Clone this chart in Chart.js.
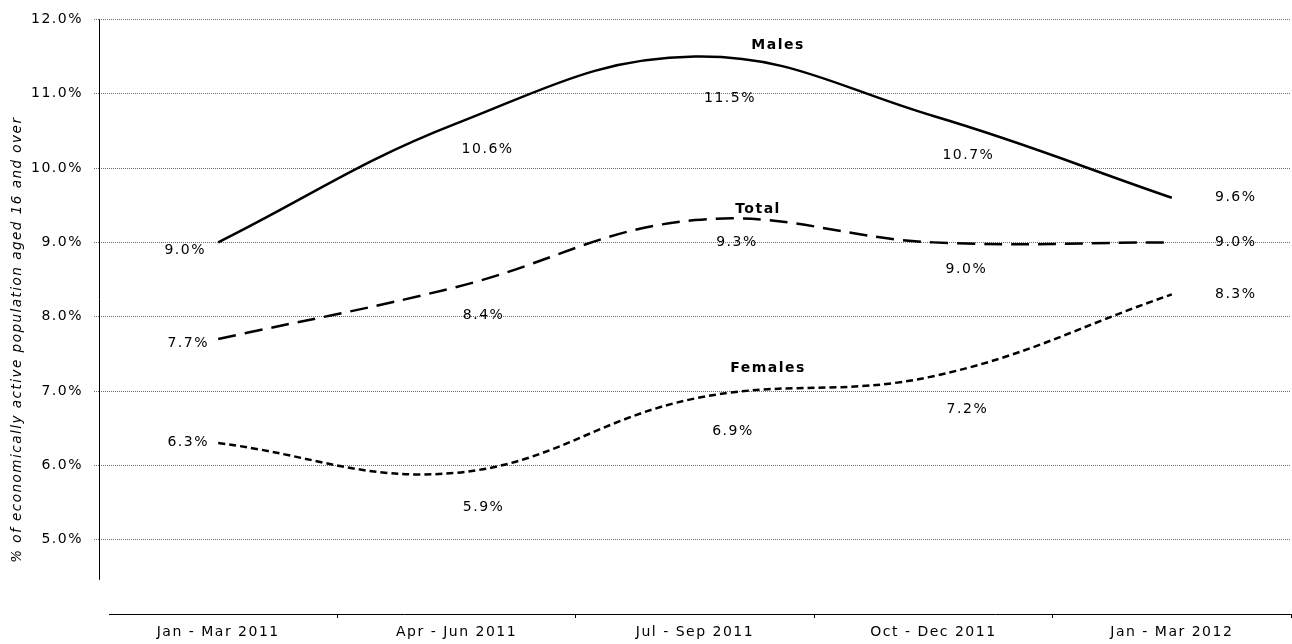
<!DOCTYPE html>
<html>
<head>
<meta charset="utf-8">
<script src="https://cdn.jsdelivr.net/npm/chart.js@4.4.1/dist/chart.umd.min.js"></script>
<style>
  html, body { margin: 0; padding: 0; background: #fff; }
  #wrap { width: 1292px; height: 644px; position: relative; }
</style>
</head>
<body>
<div id="wrap"><canvas id="chart"></canvas></div>
<script>
const quarters = ['Jan - Mar 2011', 'Apr - Jun 2011', 'Jul - Sep 2011', 'Oct - Dec 2011', 'Jan - Mar 2012'];
const males   = [9.0, 10.6, 11.5, 10.7, 9.6];
const total   = [7.7, 8.4, 9.3, 9.0, 9.0];
const females = [6.3, 5.9, 6.9, 7.2, 8.3];
const yTicks  = [5, 6, 7, 8, 9, 10, 11, 12];
const yTitle  = '% of economically active population aged 16 and over';

// where the value labels sit relative to their point (px), as in the original
const labelShift = {
  Males:   [[-33, 8], [31, 26], [35, 42], [35, 39], [64, 0]],
  Total:   [[-30, 4], [27, 28], [42, 22], [33, 27], [64, 0]],
  Females: [[-30, -1], [27, 35], [38, 33], [34, 33], [64, 0]]
};
// series name, placed near the Jul - Sep point
const nameShift = { Males: [83, -11], Total: [63, -11], Females: [73, -30] };

const FONT = 'DejaVu Sans';
const SPACING = '1.5px';

// canvas resets its state on resize, so set letter spacing again before layout / draw
const spacing = {
  id: 'spacing',
  beforeUpdate(c) { c.ctx.letterSpacing = SPACING; },
  beforeLayout(c) { c.ctx.letterSpacing = SPACING; },
  beforeDraw(c) { c.ctx.letterSpacing = SPACING; }
};

// axis lines: y stops a bit below 5.0%, x starts a little right of the y axis
const axisLines = {
  id: 'axisLines',
  beforeDatasetsDraw(c) {
    const y = c.scales.y, ctx = c.ctx, a = c.chartArea;
    const x = Math.round(a.left) + 0.5;
    const yb = Math.round(a.bottom) + 0.5;
    ctx.save();
    ctx.strokeStyle = '#000';
    ctx.lineWidth = 1;
    ctx.beginPath();
    ctx.moveTo(x, y.getPixelForValue(12));
    ctx.lineTo(x, y.getPixelForValue(4.46));
    ctx.moveTo(a.left + 10, yb);
    ctx.lineTo(a.right, yb);
    ctx.stroke();

    // rotated axis title
    ctx.letterSpacing = SPACING;
    ctx.fillStyle = '#000';
    ctx.font = 'italic 13.5px "' + FONT + '"';
    ctx.textAlign = 'center';
    ctx.textBaseline = 'middle';
    ctx.translate(17, (a.top + a.bottom) / 2 + 23);
    ctx.rotate(-Math.PI / 2);
    ctx.fillText(yTitle, 0, 0);
    ctx.restore();
  }
};

const valueLabels = {
  id: 'valueLabels',
  afterDatasetsDraw(c) {
    const ctx = c.ctx;
    ctx.save();
    ctx.letterSpacing = SPACING;
    ctx.fillStyle = '#000';
    ctx.textAlign = 'center';
    ctx.textBaseline = 'middle';
    c.data.datasets.forEach((ds, i) => {
      const meta = c.getDatasetMeta(i);
      const sh = labelShift[ds.label];
      ctx.font = '14px "' + FONT + '"';
      meta.data.forEach((pt, j) => {
        ctx.fillText(ds.data[j].toFixed(1) + '%', pt.x + sh[j][0], pt.y + sh[j][1]);
      });
      const p = meta.data[2], n = nameShift[ds.label];
      ctx.font = 'bold 14px "' + FONT + '"';
      ctx.fillText(ds.label, p.x + n[0], p.y + n[1]);
    });
    ctx.restore();
  }
};

new Chart(document.getElementById('chart'), {
  type: 'line',
  data: {
    labels: quarters,
    datasets: [
      { label: 'Males', data: males, borderColor: '#000', borderWidth: 2.5 },
      { label: 'Total', data: total, borderColor: '#000', borderWidth: 2.5, borderDash: [18, 9] },
      { label: 'Females', data: females, borderColor: '#000', borderWidth: 2.5, borderDash: [7, 4] }
    ]
  },
  options: {
    responsive: true,
    maintainAspectRatio: false,
    animation: false,
    elements: {
      point: { radius: 0 },
      line: { tension: 0.4, fill: false }
    },
    layout: { padding: { top: 17, right: 1, left: 0, bottom: 0 } },
    plugins: {
      legend: { display: false },
      tooltip: { enabled: false }
    },
    scales: {
      x: {
        offset: true,
        grid: {
          display: true, drawOnChartArea: false, drawTicks: true,
          tickLength: 4, offset: true,
          color: '#000',
          tickColor: ctx => ctx.index === 0 ? 'rgba(0,0,0,0)' : '#000'
        },
        border: { display: false },
        ticks: {
          color: '#000', font: { family: FONT, size: 14 },
          padding: 6, maxRotation: 0, autoSkip: false
        },
        afterFit(s) { s.height = 30; }
      },
      y: {
        min: 4,
        max: 12,
        afterBuildTicks(s) { s.ticks = yTicks.map(v => ({ value: v })); },
        grid: {
          color: '#6a6a6a', lineWidth: 1, tickLength: 5,
          tickColor: '#6a6a6a', tickBorderDash: [1, 1]
        },
        border: { display: false, dash: [1, 1] },
        ticks: {
          color: '#000', font: { family: FONT, size: 14 }, padding: 11,
          callback: v => v.toFixed(1) + '%'
        },
        afterFit(s) { s.width = 99; }
      }
    }
  },
  plugins: [spacing, axisLines, valueLabels]
});
</script>
</body>
</html>
